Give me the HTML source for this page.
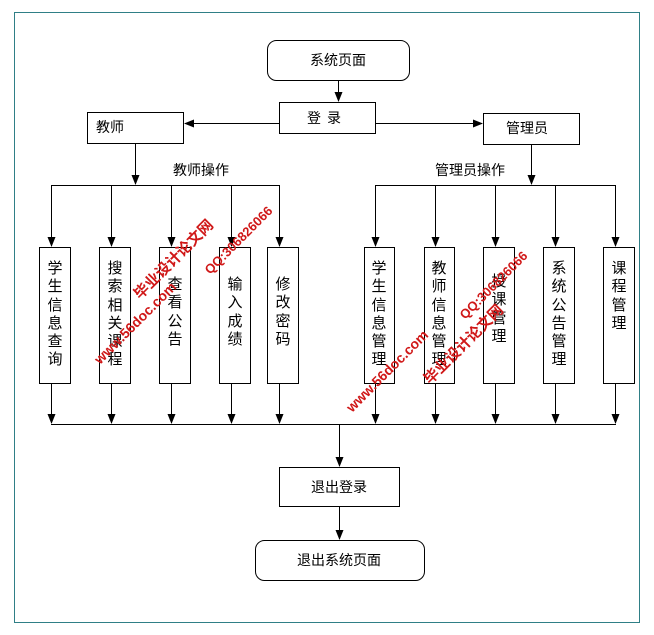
<!DOCTYPE html>
<html><head><meta charset="utf-8"><style>
body{margin:0;background:#fff;}
svg{display:block;font-family:"Liberation Sans","Noto Sans CJK SC",sans-serif;}
</style></head><body>
<svg width="654" height="635" viewBox="0 0 654 635" xmlns="http://www.w3.org/2000/svg">
<defs><marker id="a" markerWidth="10" markerHeight="10" refX="9" refY="5" orient="auto" markerUnits="userSpaceOnUse"><path d="M0,1 L10,5 L0,9 z" fill="#000"/></marker></defs>
<rect x="14.5" y="12.5" width="625" height="610" fill="#fff" stroke="#2f7f86" stroke-width="1"/>
<g fill="none" stroke="#000" stroke-width="1">
<rect x="267.5" y="40.5" width="142" height="40" rx="9"/>
<rect x="279.5" y="102.5" width="96" height="31"/>
<rect x="87.5" y="112.5" width="96" height="31"/>
<rect x="483.5" y="113.5" width="96" height="31"/>
<line x1="338.5" y1="80" x2="338.5" y2="101" marker-end="url(#a)"/>
<line x1="279" y1="123.5" x2="185" y2="123.5" marker-end="url(#a)"/>
<line x1="376" y1="123.5" x2="482" y2="123.5" marker-end="url(#a)"/>
<line x1="135.5" y1="144" x2="135.5" y2="184" marker-end="url(#a)"/>
<line x1="531.5" y1="145" x2="531.5" y2="184" marker-end="url(#a)"/>
<line x1="51" y1="185.5" x2="279" y2="185.5"/>
<line x1="375" y1="185.5" x2="615" y2="185.5"/>
<g>
<line x1="51.5" y1="185" x2="51.5" y2="246" marker-end="url(#a)"/>
<line x1="111.5" y1="185" x2="111.5" y2="246" marker-end="url(#a)"/>
<line x1="171.5" y1="185" x2="171.5" y2="246" marker-end="url(#a)"/>
<line x1="231.5" y1="185" x2="231.5" y2="246" marker-end="url(#a)"/>
<line x1="279.5" y1="185" x2="279.5" y2="246" marker-end="url(#a)"/>
<line x1="375.5" y1="185" x2="375.5" y2="246" marker-end="url(#a)"/>
<line x1="435.5" y1="185" x2="435.5" y2="246" marker-end="url(#a)"/>
<line x1="495.5" y1="185" x2="495.5" y2="246" marker-end="url(#a)"/>
<line x1="555.5" y1="185" x2="555.5" y2="246" marker-end="url(#a)"/>
<line x1="615.5" y1="185" x2="615.5" y2="246" marker-end="url(#a)"/>
</g>
<rect x="39.5" y="247.5" width="31" height="136"/>
<rect x="99.5" y="247.5" width="31" height="136"/>
<rect x="159.5" y="247.5" width="31" height="136"/>
<rect x="219.5" y="247.5" width="31" height="136"/>
<rect x="267.5" y="247.5" width="31" height="136"/>
<rect x="364.5" y="247.5" width="30" height="136"/>
<rect x="424.5" y="247.5" width="30" height="136"/>
<rect x="483.5" y="247.5" width="31" height="136"/>
<rect x="543.5" y="247.5" width="31" height="136"/>
<rect x="603.5" y="247.5" width="31" height="136"/>
<line x1="51.5" y1="384" x2="51.5" y2="423" marker-end="url(#a)"/>
<line x1="111.5" y1="384" x2="111.5" y2="423" marker-end="url(#a)"/>
<line x1="171.5" y1="384" x2="171.5" y2="423" marker-end="url(#a)"/>
<line x1="231.5" y1="384" x2="231.5" y2="423" marker-end="url(#a)"/>
<line x1="279.5" y1="384" x2="279.5" y2="423" marker-end="url(#a)"/>
<line x1="375.5" y1="384" x2="375.5" y2="423" marker-end="url(#a)"/>
<line x1="435.5" y1="384" x2="435.5" y2="423" marker-end="url(#a)"/>
<line x1="495.5" y1="384" x2="495.5" y2="423" marker-end="url(#a)"/>
<line x1="555.5" y1="384" x2="555.5" y2="423" marker-end="url(#a)"/>
<line x1="615.5" y1="384" x2="615.5" y2="423" marker-end="url(#a)"/>
<line x1="51" y1="424.5" x2="616" y2="424.5"/>
<line x1="339.5" y1="424" x2="339.5" y2="466" marker-end="url(#a)"/>
<rect x="279.5" y="467.5" width="120" height="39"/>
<line x1="339.5" y1="507" x2="339.5" y2="539" marker-end="url(#a)"/>
<rect x="255.5" y="540.5" width="169" height="40" rx="9"/>
</g>
<g font-size="14" fill="#000">
<text x="338" y="65" text-anchor="middle">系统页面</text>
<text x="327" y="123" text-anchor="middle" letter-spacing="6">登录</text>
<text x="96" y="132">教师</text>
<text x="506" y="133">管理员</text>
<text x="173" y="175">教师操作</text>
<text x="435" y="175">管理员操作</text>
<text x="339" y="492" text-anchor="middle">退出登录</text>
<text x="339" y="565" text-anchor="middle">退出系统页面</text>
</g>
<g font-size="15" fill="#000" text-anchor="middle">
<text x="55" y="273">学</text><text x="55" y="291">生</text><text x="55" y="310">信</text><text x="55" y="328">息</text><text x="55" y="346">查</text><text x="55" y="364">询</text>
<text x="115" y="273">搜</text><text x="115" y="291">索</text><text x="115" y="310">相</text><text x="115" y="328">关</text><text x="115" y="346">课</text><text x="115" y="364">程</text>
<text x="175" y="289">查</text><text x="175" y="307">看</text><text x="175" y="326">公</text><text x="175" y="344">告</text>
<text x="235" y="289">输</text><text x="235" y="307">入</text><text x="235" y="326">成</text><text x="235" y="344">绩</text>
<text x="283" y="289">修</text><text x="283" y="307">改</text><text x="283" y="326">密</text><text x="283" y="344">码</text>
<text x="379" y="273">学</text><text x="379" y="291">生</text><text x="379" y="310">信</text><text x="379" y="328">息</text><text x="379" y="346">管</text><text x="379" y="364">理</text>
<text x="439" y="273">教</text><text x="439" y="291">师</text><text x="439" y="310">信</text><text x="439" y="328">息</text><text x="439" y="346">管</text><text x="439" y="364">理</text>
<text x="499" y="286">授</text><text x="499" y="304">课</text><text x="499" y="323">管</text><text x="499" y="341">理</text>
<text x="559" y="273">系</text><text x="559" y="291">统</text><text x="559" y="310">公</text><text x="559" y="328">告</text><text x="559" y="346">管</text><text x="559" y="364">理</text>
<text x="619" y="273">课</text><text x="619" y="291">程</text><text x="619" y="310">管</text><text x="619" y="328">理</text>
</g>
<g fill="#d01818" font-weight="bold" font-size="15">
<text transform="translate(140,300) rotate(-45)">毕业设计论文网</text>
<text transform="translate(210,275) rotate(-45)" font-size="13">QQ:306826066</text>
<text transform="translate(100,365) rotate(-45)" font-size="14">www.56doc.com</text>
<text transform="translate(430,385) rotate(-45)">毕业设计论文网</text>
<text transform="translate(465,320) rotate(-45)" font-size="13">QQ:306826066</text>
<text transform="translate(352,413) rotate(-45)" font-size="14">www.56doc.com</text>
</g>
</svg>
</body></html>
